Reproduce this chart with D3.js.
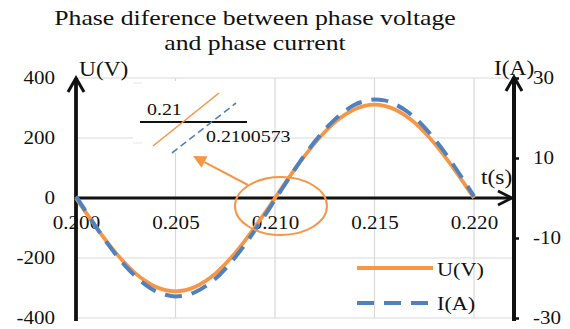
<!DOCTYPE html>
<html>
<head>
<meta charset="utf-8">
<script src="https://cdn.jsdelivr.net/npm/d3@7"></script>
<style>
  html, body { margin: 0; padding: 0; background: #fff; }
  svg { display: block; }
  text { font-family: "Liberation Serif", "Times New Roman", serif; fill: #111; }
</style>
</head>
<body>
<svg id="chart" width="570" height="329"></svg>
<script>
// Sample times (s)
const timeS = [
  0.2000, 0.2005, 0.2010, 0.2015, 0.2020, 0.2025, 0.2030, 0.2035, 0.2040, 0.2045,
  0.2050, 0.2055, 0.2060, 0.2065, 0.2070, 0.2075, 0.2080, 0.2085, 0.2090, 0.2095,
  0.2100, 0.2105, 0.2110, 0.2115, 0.2120, 0.2125, 0.2130, 0.2135, 0.2140, 0.2145,
  0.2150, 0.2155, 0.2160, 0.2165, 0.2170, 0.2175, 0.2180, 0.2185, 0.2190, 0.2195,
  0.2200
];
// Phase voltage U (V)
const voltageU = [
  0, -49, -96, -141, -183, -220, -252, -277, -296, -307,
  -311, -307, -296, -277, -252, -220, -183, -141, -96, -49,
  0, 49, 96, 141, 183, 220, 252, 277, 296, 307,
  311, 307, 296, 277, 252, 220, 183, 141, 96, 49,
  0
];
// Phase current I (A)
const currentI = [
  0.4, -3.4, -7.2, -10.8, -14.1, -17.1, -19.6, -21.7, -23.3, -24.2,
  -24.6, -24.4, -23.5, -22.1, -20.2, -17.7, -14.8, -11.6, -8.0, -4.3,
  -0.4, 3.4, 7.2, 10.8, 14.1, 17.1, 19.6, 21.7, 23.3, 24.2,
  24.6, 24.4, 23.5, 22.1, 20.2, 17.7, 14.8, 11.6, 8.0, 4.3,
  0.4
];
const uTicks = [-400, -200, 0, 200, 400];
const iTicks = [-30, -10, 10, 30];
const tTicks = [0.200, 0.205, 0.210, 0.215, 0.220];
const titleLines = ["Phase diference between phase voltage", "and phase current"];
const zoomLabels = ["0.21", "0.2100573"];
const seriesNames = ["U(V)", "I(A)"];

const ORANGE = "#F79646";
const BLUE = "#4F81BD";
const GRID = "#d9d9d9";
const SX = 1.17; // horizontal stretch of the lettering

const svg = d3.select("#chart");
svg.append("rect").attr("width", 570).attr("height", 329).attr("fill", "#fff");

const x = d3.scaleLinear().domain([0.200, 0.220]).range([76, 474]);
const yU = d3.scaleLinear().domain([-400, 400]).range([318, 78]);
const yI = d3.scaleLinear().domain([-30, 30]).range([318, 78]);
const plotLeft = 76, plotRight = 514, plotTop = 78, plotBottom = 318;

function stretch(sel) {
  sel.each(function () {
    const t = d3.select(this);
    const tx = +t.attr("x") || 0, ty = +t.attr("y") || 0;
    t.attr("x", null).attr("y", null)
     .attr("transform", `translate(${tx},${ty}) scale(${SX},1)`);
  });
  return sel;
}
const plain = d => String(d); // hyphen-minus for negative values

// Gridlines
const grid = svg.append("g");
grid.selectAll("line.h").data(uTicks.filter(d => d !== 0)).join("line")
  .attr("x1", plotLeft).attr("x2", plotRight)
  .attr("y1", d => yU(d)).attr("y2", d => yU(d))
  .attr("stroke", GRID).attr("stroke-width", 1.2);
grid.selectAll("line.v").data(tTicks.filter(d => d !== 0.200)).join("line")
  .attr("x1", d => x(d)).attr("x2", d => x(d))
  .attr("y1", plotTop).attr("y2", plotBottom)
  .attr("stroke", GRID).attr("stroke-width", 1.2);

// Title
svg.append("g").selectAll("text").data(titleLines).join("text")
  .attr("x", 255).attr("y", (d, i) => 25 + i * 25)
  .attr("text-anchor", "middle").attr("font-size", 22)
  .text(d => d).call(stretch);

// Zoomed detail of the zero crossing
const inset = svg.append("g");
inset.append("rect").attr("x", 133).attr("y", 81).attr("width", 135).attr("height", 72).attr("fill", "#fff");
inset.append("line").attr("x1", 133).attr("x2", 142).attr("y1", 83).attr("y2", 83).attr("stroke", "#e6e6e6").attr("stroke-width", 1);
inset.append("line").attr("x1", 133).attr("x2", 142).attr("y1", 143).attr("y2", 143).attr("stroke", "#e6e6e6").attr("stroke-width", 1);
inset.append("line").attr("x1", 140).attr("x2", 247).attr("y1", 122).attr("y2", 122)
  .attr("stroke", "#111").attr("stroke-width", 2);
inset.append("line").attr("x1", 153).attr("y1", 146).attr("x2", 219).attr("y2", 93)
  .attr("stroke", ORANGE).attr("stroke-width", 1.6);
inset.append("line").attr("x1", 172).attr("y1", 153).attr("x2", 236).attr("y2", 103)
  .attr("stroke", BLUE).attr("stroke-width", 1.6).attr("stroke-dasharray", "7,4");
inset.append("text").attr("x", 147).attr("y", 115).attr("font-size", 17).text(zoomLabels[0]).call(stretch);
inset.append("text").attr("x", 206).attr("y", 142).attr("font-size", 17).text(zoomLabels[1]).call(stretch);

// Axes (labels through d3 axes, lines drawn bold with arrows)
const axLeft = svg.append("g").attr("transform", `translate(${plotLeft},0)`)
  .call(d3.axisLeft(yU).tickValues(uTicks).tickFormat(plain).tickSize(0).tickPadding(21));
const axBottom = svg.append("g").attr("transform", `translate(0,${yU(0)})`)
  .call(d3.axisBottom(x).tickValues(tTicks).tickFormat(d3.format(".3f")).tickSize(0).tickPadding(18));
const axRight = svg.append("g").attr("transform", `translate(${plotRight},0)`)
  .call(d3.axisRight(yI).tickValues(iTicks).tickFormat(plain).tickSize(5).tickPadding(14));
[axLeft, axBottom, axRight].forEach(g => {
  g.select(".domain").remove();
  g.selectAll("text").attr("font-size", 18).attr("font-family", null).attr("fill", "#111").call(stretch);
  g.attr("font-family", null).attr("font-size", null);
});
axRight.selectAll(".tick line").attr("stroke", "#111").attr("stroke-width", 2.5);

const axisLines = svg.append("g").attr("stroke", "#111").attr("fill", "none")
  .attr("stroke-linejoin", "miter");
axisLines.append("line").attr("x1", plotLeft).attr("x2", plotLeft).attr("y1", 321).attr("y2", 78).attr("stroke-width", 3.8);
axisLines.append("path").attr("d", `M${plotLeft - 8},${92} L${plotLeft},${78} L${plotLeft + 8},${92}`).attr("stroke-width", 3);
axisLines.append("line").attr("x1", plotLeft).attr("x2", 511).attr("y1", yU(0)).attr("y2", yU(0)).attr("stroke-width", 3.2);
axisLines.append("path").attr("d", `M${498},${yU(0) - 7} L${512},${yU(0)} L${498},${yU(0) + 7}`).attr("stroke-width", 2.8);
axisLines.append("line").attr("x1", plotRight).attr("x2", plotRight).attr("y1", 321).attr("y2", 77).attr("stroke-width", 4);
axisLines.append("path").attr("d", `M${plotRight - 8},${91} L${plotRight},${77} L${plotRight + 8},${91}`).attr("stroke-width", 3);

// Axis titles
svg.append("text").attr("x", 79).attr("y", 76).attr("font-size", 20).text("U(V)").call(stretch);
svg.append("text").attr("x", 494).attr("y", 75).attr("font-size", 20).text("I(A)").call(stretch);
svg.append("text").attr("x", 481).attr("y", 184).attr("font-size", 20).text("t(s)").call(stretch);

// Series
const rows = timeS.map((t, i) => ({ t, u: voltageU[i], c: currentI[i] }));
const lineU = d3.line().x(d => x(d.t)).y(d => yU(d.u)).curve(d3.curveMonotoneX);
const lineI = d3.line().x(d => x(d.t)).y(d => yI(d.c)).curve(d3.curveMonotoneX);
svg.append("path").datum(rows).attr("d", lineU)
  .attr("fill", "none").attr("stroke", ORANGE).attr("stroke-width", 3.8);
svg.append("path").datum(rows).attr("d", lineI)
  .attr("fill", "none").attr("stroke", BLUE).attr("stroke-width", 4)
  .attr("stroke-dasharray", "17,10");

// Highlight of the zero crossing with pointer to the detail
const cx = x(0.2103), cy = yU(0) + 8;
svg.append("ellipse").attr("cx", cx).attr("cy", cy).attr("rx", 46).attr("ry", 29)
  .attr("fill", "none").attr("stroke", ORANGE).attr("stroke-width", 2);
const tail = [248, 185], tip = [193, 156];
const dx = tip[0] - tail[0], dy = tip[1] - tail[1], len = Math.hypot(dx, dy);
const ux = dx / len, uy = dy / len, head = 13, half = 6.5;
const bx = tip[0] - ux * head, by = tip[1] - uy * head;
svg.append("line").attr("x1", tail[0]).attr("y1", tail[1]).attr("x2", bx).attr("y2", by)
  .attr("stroke", ORANGE).attr("stroke-width", 2);
svg.append("path")
  .attr("d", `M${tip[0]},${tip[1]} L${bx - uy * half},${by + ux * half} L${bx + uy * half},${by - ux * half} Z`)
  .attr("fill", ORANGE);

// Legend
const legend = svg.append("g");
legend.append("line").attr("x1", 357).attr("x2", 433).attr("y1", 268).attr("y2", 268)
  .attr("stroke", ORANGE).attr("stroke-width", 3.8);
legend.append("line").attr("x1", 357).attr("x2", 433).attr("y1", 303).attr("y2", 303)
  .attr("stroke", BLUE).attr("stroke-width", 4).attr("stroke-dasharray", "17,10");
legend.selectAll("text").data(seriesNames).join("text")
  .attr("x", 437).attr("y", (d, i) => 276 + i * 34).attr("font-size", 19)
  .text(d => d).call(stretch);
</script>
</body>
</html>
